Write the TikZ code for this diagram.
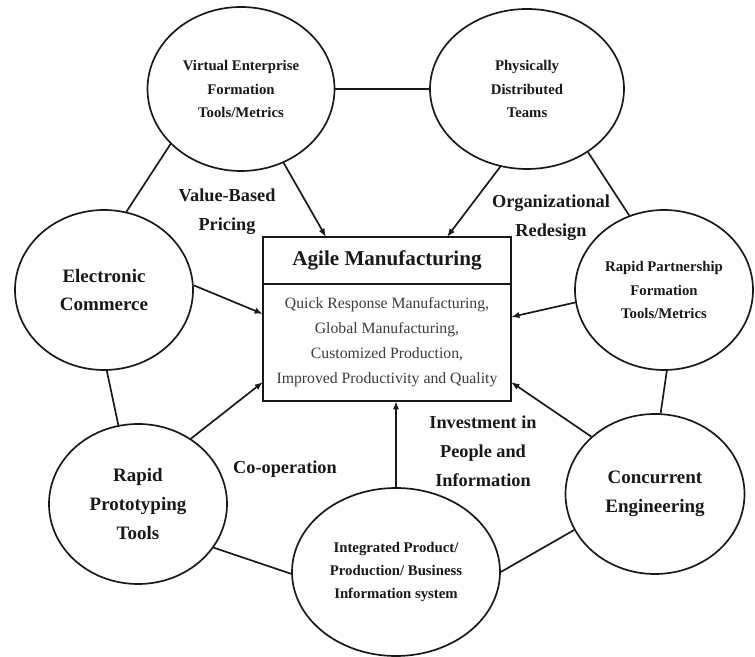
\documentclass[tikz,border=0pt]{standalone}
\usepackage{fontspec}
\setmainfont{Liberation Serif}
\usetikzlibrary{arrows.meta,positioning,shapes.geometric}
\definecolor{AgileInk}{RGB}{25,25,25}
\definecolor{AgileGray}{RGB}{60,60,60}
\tikzset{
  agile/oval/.style={
    ellipse,
    draw=AgileInk,
    very thick,
    fill=white,
    align=center,
    text=AgileInk,
    inner sep=0pt,
    minimum width=4.45cm,
    minimum height=4cm,
    font=\fontsize{10.5}{16.4}\selectfont\bfseries
  },
  agile/bigoval/.style={
    agile/oval,
    font=\fontsize{13.5}{20.6}\selectfont\bfseries
  },
  agile/head/.style={
    draw=AgileInk,
    very thick,
    fill=white,
    align=center,
    text=AgileInk,
    minimum width=6.2cm,
    minimum height=1.175cm,
    inner sep=0pt,
    outer sep=0pt,
    font=\fontsize{15}{18}\selectfont\bfseries
  },
  agile/body/.style={
    draw=AgileInk,
    very thick,
    fill=white,
    align=center,
    text=AgileGray,
    minimum width=6.2cm,
    minimum height=2.925cm,
    inner sep=0pt,
    outer sep=0pt,
    font=\fontsize{11.2}{17.8}\selectfont
  },
  agile/arrow/.style={-{Latex[length=6pt,width=4.5pt]}, very thick, draw=AgileInk},
  agile/line/.style={very thick, draw=AgileInk},
  agile/label/.style={font=\fontsize{13}{20.6}\selectfont\bfseries, text=AgileInk, align=center}
}

\begin{document}
\begin{tikzpicture}[x=1cm,y=1cm]
  \useasboundingbox (0,0) rectangle (18.875,16.425);
  \node[agile/oval,minimum width=4.675cm,minimum height=4.1cm] (ve) at (6.025,14.2) {Virtual Enterprise\\Formation\\Tools/Metrics};
  \node[agile/oval,minimum width=4.85cm] (pdt) at (13.175,14.2) {Physically\\Distributed\\Teams};
  \node[agile/bigoval] (ec) at (2.6,9.175) {Electronic\\Commerce};
  \node[agile/oval] (rpf) at (16.6,9.175) {Rapid Partnership\\Formation\\Tools/Metrics};
  \node[agile/bigoval] (rpt) at (3.45,3.825) {Rapid\\Prototyping\\Tools};
  \node[agile/oval,minimum width=5.2cm,minimum height=4.2cm] (ips) at (9.9,2.125) {Integrated Product/\\Production/ Business\\Information system};
  \node[agile/bigoval,minimum width=4.475cm] (ce) at (16.375,4.075) {Concurrent\\Engineering};
  \node[agile/head] (am) at (9.675,9.9125) {Agile Manufacturing};
  \node[agile/body,below=0pt of am] (amlist) {Quick Response Manufacturing,\\Global Manufacturing,\\Customized Production,\\Improved Productivity and Quality};
  \draw[agile/line] (ve.east) -- (pdt.west);
  \draw[agile/line] (ve.218) -- (ec.74);
  \draw[agile/line] (pdt.-46) -- (rpf.115);
  \draw[agile/line] (ec.-88) -- (rpt.104);
  \draw[agile/line] (rpf.-88) -- (ce.86);
  \draw[agile/line] (rpt.-30) -- (ips.181);
  \draw[agile/line] (ips.east) -- (ce.204);
  \draw[agile/arrow] (ve.-60) -- ([xshift=-1.525cm]am.north);
  \draw[agile/arrow] (pdt.251) -- ([xshift=1.5cm]am.north);
  \draw[agile/arrow] (ec.3) -- ([yshift=-0.75cm]amlist.north west);
  \draw[agile/arrow] (rpf.188) -- ([yshift=-0.825cm]amlist.north east);
  \draw[agile/arrow] (rpt.51) -- ([yshift=0.475cm]amlist.south west);
  \draw[agile/arrow] (ce.138) -- ([yshift=0.475cm]amlist.south east);
  \draw[agile/arrow] (ips.north) -- (ips.north |- amlist.south);
  \node[agile/label] (vbp) at (5.675,11.125) {Value-Based\\Pricing};
  \node[agile/label] (ord) at (13.775,10.975) {Organizational\\Redesign};
  \node[agile/label] (coop) at (7.125,4.7) {Co-operation};
  \node[agile/label] (ipi) at (12.075,5.15) {Investment in\\People and\\Information};
\end{tikzpicture}
\end{document}
